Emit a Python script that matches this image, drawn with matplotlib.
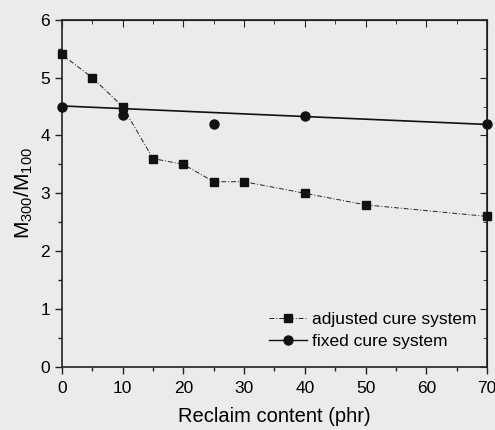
import numpy as np
import matplotlib
matplotlib.use('Agg')
import matplotlib.pyplot as plt
from matplotlib.ticker import MultipleLocator

plt.rcParams['font.family'] = ['Liberation Sans', 'DejaVu Sans']
plt.rcParams['mathtext.default'] = 'regular'

# ── data ──
reclaim_adj = [0, 5, 10, 15, 20, 25, 30, 40, 50, 70]
ratio_adj = [5.40, 5.00, 4.50, 3.60, 3.50, 3.20, 3.20, 3.00, 2.80, 2.60]

reclaim_fix = [0, 10, 25, 40, 70]
ratio_fix = [4.50, 4.35, 4.20, 4.33, 4.20]

# straight trend line drawn through the fixed-system points
trend_x = [0, 70]
trend_y = [4.51, 4.19]

bg = '#ebebeb'
fig = plt.figure(figsize=(4.95, 4.30), dpi=100, facecolor=bg)
ax = fig.add_axes([0.125, 0.147, 0.859, 0.807], facecolor=bg)

ax.plot(reclaim_adj, ratio_adj, color='#222222', lw=0.7, ls=(0, (5, 2, 1, 2)),
        marker='s', ms=6, mfc='#111111', mec='#111111',
        label='adjusted cure system', clip_on=False, zorder=3)
ax.plot(reclaim_fix, ratio_fix, ls='none', marker='o', ms=6.5,
        mfc='#111111', mec='#111111', clip_on=False, zorder=3)
ax.plot(trend_x, trend_y, color='#111111', lw=1.2, zorder=2)

# legend handle for fixed system: line + circle
ax.plot([], [], color='#111111', lw=1.0, marker='o', ms=6.5,
        label='fixed cure system')
h, l = ax.get_legend_handles_labels()
leg = ax.legend(h, l, loc='lower right', bbox_to_anchor=(1.0, 0.02),
                frameon=False, fontsize=12.5, handlelength=2.2,
                handletextpad=0.3, labelspacing=0.42, borderaxespad=0.2)

ax.set_xlim(0, 70)
ax.set_ylim(0, 6)
ax.xaxis.set_major_locator(MultipleLocator(10))
ax.xaxis.set_minor_locator(MultipleLocator(5))
ax.yaxis.set_major_locator(MultipleLocator(1))
ax.yaxis.set_minor_locator(MultipleLocator(0.5))

ax.tick_params(which='both', direction='out', top=False, right=False,
               labelsize=12.5, color='#222222', width=1.0)
ax.tick_params(which='major', length=5)
ax.tick_params(which='minor', length=3)
ax.tick_params(axis='x', which='major', pad=5)

for side in ['top', 'bottom', 'left', 'right']:
    ax.spines[side].set_color('#222222')
    ax.spines[side].set_linewidth(1.2)

# mirrored axes with inward ticks (top and right)
axt = ax.secondary_xaxis('top')
axt.xaxis.set_major_locator(MultipleLocator(10))
axt.xaxis.set_minor_locator(MultipleLocator(5))
axt.tick_params(which='both', direction='in', labeltop=False, color='#222222')
axt.tick_params(which='major', length=5)
axt.tick_params(which='minor', length=3)
axr = ax.secondary_yaxis('right')
axr.yaxis.set_major_locator(MultipleLocator(1))
axr.yaxis.set_minor_locator(MultipleLocator(0.5))
axr.tick_params(which='both', direction='in', labelright=False, color='#222222')
axr.tick_params(which='major', length=5)
axr.tick_params(which='minor', length=3)

ax.set_xlabel('Reclaim content (phr)', fontsize=14.5, labelpad=8)
ax.set_ylabel('M$_{300}$/M$_{100}$', fontsize=15, labelpad=4)

fig.savefig('out.png', dpi=100, facecolor=bg)
